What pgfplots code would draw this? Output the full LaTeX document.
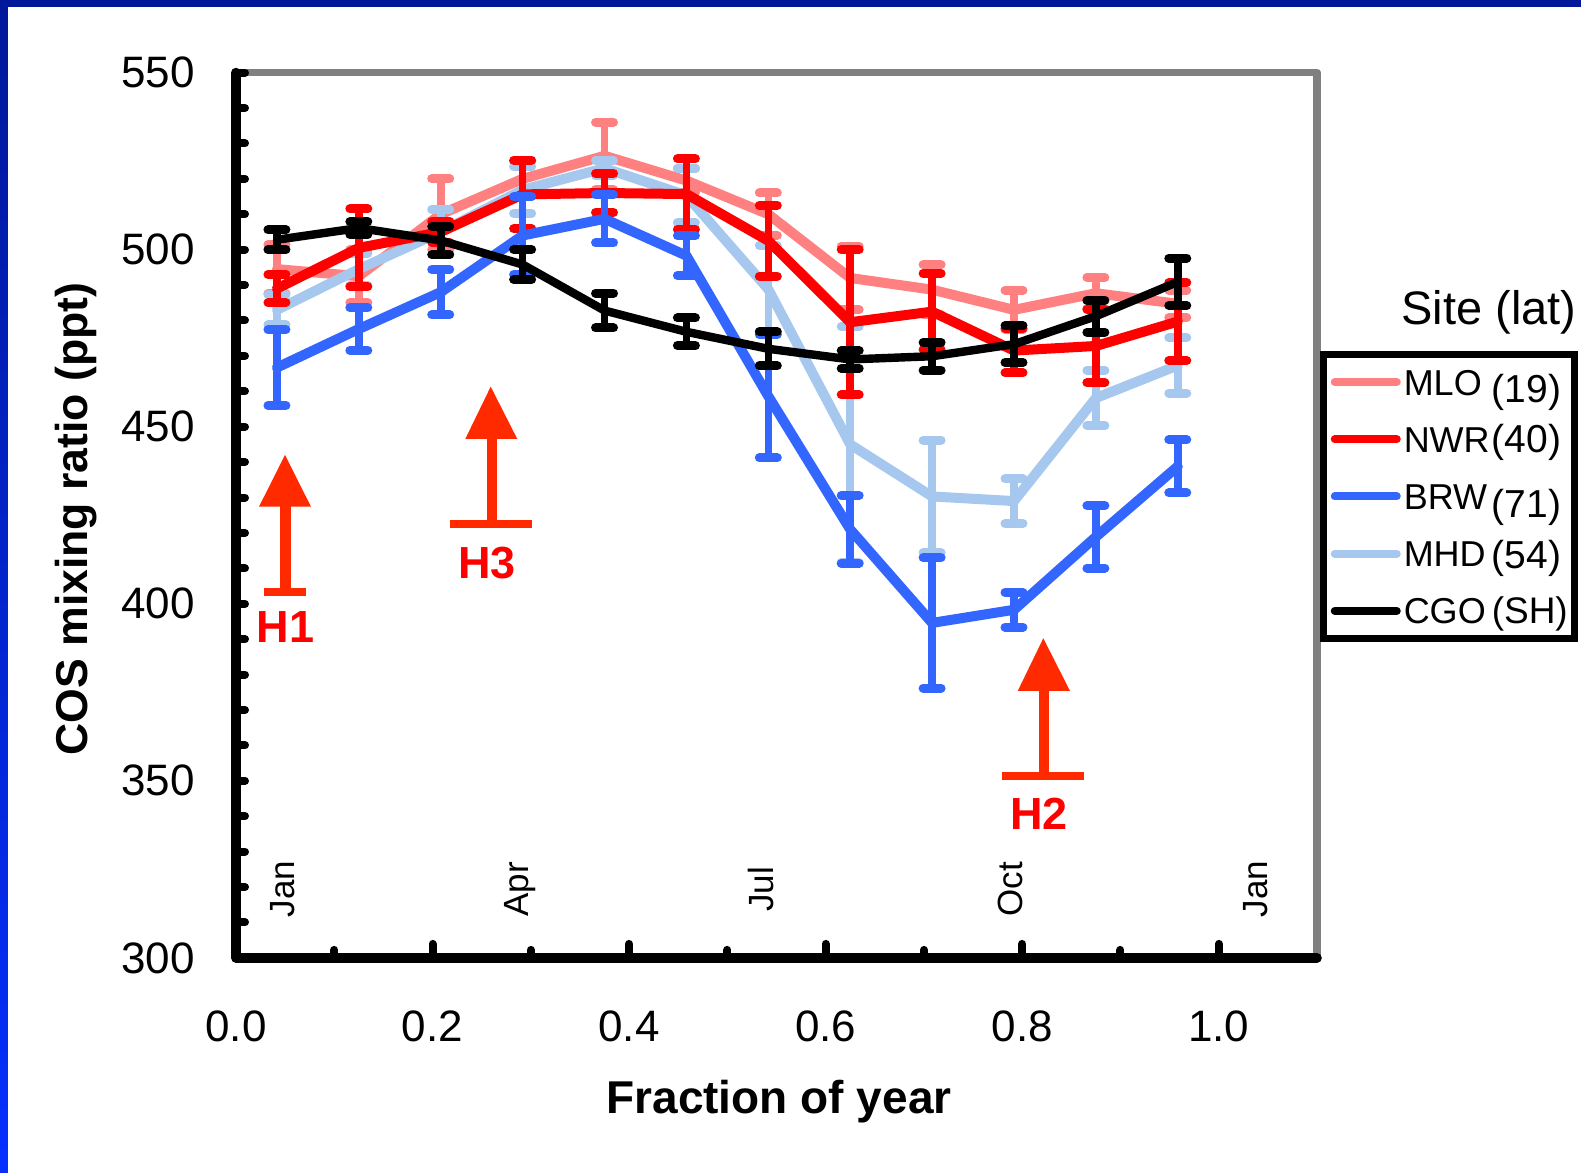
\documentclass[border=0pt]{standalone}
\usepackage{pgfplots}
\usepackage{pgfplotstable}
\pgfplotsset{compat=1.18}
\usepackage{fontspec}
\setmainfont{Liberation Sans}
\usepackage{graphicx}

\newcommand{\fs}[1]{\fontsize{#1}{#1}\selectfont}

\definecolor{mloC}{HTML}{FF8080}
\definecolor{nwrC}{HTML}{FF0000}
\definecolor{brwC}{HTML}{3366FF}
\definecolor{mhdC}{HTML}{A6C8EF}
\definecolor{cgoC}{HTML}{000000}
\definecolor{arrC}{HTML}{FF2A00}
\definecolor{labC}{HTML}{FF0000}
\definecolor{frameGray}{HTML}{808080}
\definecolor{frameTop}{RGB}{0,24,153}
\definecolor{frameBot}{RGB}{5,48,255}

% monthly means (mid-month) and their errors, COS in ppt
\pgfplotstableread{
x       y      e
0.04167 494.5  7.0
0.12500 492.5  7.5
0.20833 510.0 10.0
0.29167 520.0  5.0
0.37500 526.5  9.5
0.45833 519.5  3.5
0.54167 510.0  6.0
0.62500 492.0  9.0
0.70833 488.7  7.0
0.79167 483.0  5.5
0.87500 487.7  4.4
0.95833 484.7  3.9
}\mlo
\pgfplotstableread{
x       y      e
0.04167 489.0  4.0
0.12500 500.5 11.0
0.20833 505.0  3.0
0.29167 515.6  9.7
0.37500 516.0  5.5
0.45833 515.7 10.0
0.54167 502.5 10.0
0.62500 479.5 20.5
0.70833 482.5 10.8
0.79167 471.5  6.3
0.87500 472.8 10.4
0.95833 479.7 11.0
}\nwr
\pgfplotstableread{
x       y      e
0.04167 466.7 10.7
0.12500 477.6  6.0
0.20833 488.0  6.4
0.29167 504.0 11.0
0.37500 508.7  6.8
0.45833 498.3  5.6
0.54167 458.6 17.4
0.62500 421.0  9.6
0.70833 394.6 18.4
0.79167 398.3  4.9
0.87500 418.9  8.8
0.95833 438.8  7.5
}\brw
\pgfplotstableread{
x       y      e
0.04167 483.0  4.2
0.12500 494.5  4.5
0.20833 505.0  6.3
0.29167 516.9  6.6
0.37500 523.0  2.2
0.45833 515.3  7.7
0.54167 488.8 12.4
0.62500 445.0 33.3
0.70833 430.3 15.9
0.79167 429.0  6.3
0.87500 458.1  7.8
0.95833 467.3  7.8
}\mhd
\pgfplotstableread{
x       y      e
0.04167 502.8  2.8
0.12500 506.1  1.8
0.20833 502.6  4.0
0.29167 495.8  4.2
0.37500 482.8  4.9
0.45833 476.8  3.9
0.54167 472.0  4.8
0.62500 469.0  2.5
0.70833 469.9  3.9
0.79167 473.3  5.2
0.87500 481.2  4.5
0.95833 490.9  6.7
}\cgo

\pgfplotsset{
  site/.style={
    line width=5pt, line join=round, line cap=round, no markers,
    error bars/y dir=both, error bars/y explicit,
    error bars/error bar style={line width=3.8pt, line cap=round},
    error bars/error mark options={rotate=90, line width=4.5pt, line cap=round, mark size=4.5pt},
  },
}

\begin{document}
\begin{tikzpicture}
\useasboundingbox (0,0) rectangle (790.5pt,586.5pt);

% slide background: blue edge and white panel
\begin{scope}[x=0.5pt, y=-0.5pt, shift={(0pt,586.5pt)}]
  \shade[top color=frameTop, bottom color=frameBot] (0,0) rectangle (1581,1173);
  \fill[white] (7.5,7.5) rectangle (1581,1173);
\end{scope}

\begin{axis}[
  at={(118pt,107.55pt)}, anchor=south west,
  scale only axis, width=540.5pt, height=442.65pt,
  xmin=0, xmax=1.1, ymin=300, ymax=550,
  clip=false,
  axis line style={draw=none},
  xtick={0,0.2,0.4,0.6,0.8,1.0},
  ytick={300,350,400,450,500,550},
  major tick length=0pt,
  tick style={draw=none},
  /pgf/number format/assume math mode=true,
  tick label style={font=\fs{22}},
  xticklabel style={anchor=north, inner sep=0pt, yshift=-26pt,
    /pgf/number format/fixed, /pgf/number format/fixed zerofill,
    /pgf/number format/precision=1},
  yticklabel style={anchor=east, inner sep=0pt, xshift=-20.5pt},
  xlabel={Fraction of year},
  xlabel style={at={(rel axis cs:0.5023,-0.1752)}, anchor=base, font=\bfseries\fs{23}},
  ylabel={COS mixing ratio (ppt)},
  ylabel style={at={(rel axis cs:-0.148,0.4958)}, anchor=center, font=\bfseries\fs{22.3}},
  legend image code/.code={\draw[#1, line width=4pt, line cap=round] (0pt,0pt) -- (31pt,0pt);},
  legend cell align=left,
  legend style={
    at={(1.003,0.686)}, anchor=north west,
    draw=black, line width=3.5pt, fill=white,
    inner xsep=3.5pt, inner ysep=7.5pt,
    row sep=15.6pt, column sep=1.5pt,
    font=\fs{18},
    nodes={inner sep=0pt, text height=13pt, text depth=0pt},
  },
]

% frame: grey top/right, black left/bottom
\draw[frameGray, line width=3.8pt, line cap=round, line join=round]
  (rel axis cs:0,1) -- (rel axis cs:1,1) -- (rel axis cs:1,0);
\draw[black, line width=4.8pt, line cap=round, line join=round]
  (rel axis cs:0,1) -- (rel axis cs:0,0) -- (rel axis cs:1,0);

% inward ticks
\pgfplotsinvokeforeach{310,320,330,340,350,360,370,380,390,400,410,420,430,440,450,460,470,480,490,500,510,520,530,540,550}{
  \draw[line width=4pt, line cap=round] (axis cs:0,#1) -- ++(4.5pt,0pt);
}
\pgfplotsinvokeforeach{0.1,0.3,0.5,0.7,0.9}{
  \draw[line width=4pt, line cap=round] (axis cs:#1,300) -- ++(0pt,4pt);
}
\pgfplotsinvokeforeach{0.2,0.4,0.6,0.8,1.0}{
  \draw[line width=4pt, line cap=round] (axis cs:#1,300) -- ++(0pt,7pt);
}

% month markers
\node[rotate=90, font=\fs{17.5}] at (axis cs:0.0476,319.4) {Jan};
\node[rotate=90, font=\fs{17.5}] at (axis cs:0.2895,319.4) {Apr};
\node[rotate=90, font=\fs{17.5}] at (axis cs:0.5340,319.4) {Jul};
\node[rotate=90, font=\fs{17.5}] at (axis cs:0.7880,319.4) {Oct};
\node[rotate=90, font=\fs{17.5}] at (axis cs:1.0380,319.4) {Jan};

% sites
\addplot[site, color=mloC, forget plot] table[x=x, y=y, y error=e] {\mlo};
\addplot[site, color=mhdC, forget plot] table[x=x, y=y, y error=e] {\mhd};
\addplot[site, color=nwrC, forget plot] table[x=x, y=y, y error=e] {\nwr};
\addplot[site, color=brwC, forget plot] table[x=x, y=y, y error=e] {\brw};
\addplot[site, color=cgoC, line width=4.2pt, forget plot] table[x=x, y=y, y error=e] {\cgo};

\addlegendimage{mloC}
\addlegendentry{\makebox[44pt][l]{MLO}\raisebox{-3.5pt}{\fs{19.5}(19)}}
\addlegendimage{nwrC}
\addlegendentry{\makebox[44pt][l]{NWR}{\fs{19.5}(40)}}
\addlegendimage{brwC}
\addlegendentry{\makebox[44pt][l]{BRW}\raisebox{-4pt}{\fs{19.5}(71)}}
\addlegendimage{mhdC}
\addlegendentry{\makebox[44pt][l]{MHD}\raisebox{-1pt}{\fs{19.5}(54)}}
\addlegendimage{cgoC}
\addlegendentry{\makebox[44pt][l]{CGO}{\fs{18.5}(SH)}}
\end{axis}

% annotations in picture pixel units
\begin{scope}[x=0.5pt, y=-0.5pt, shift={(0pt,586.5pt)}]
  \node[anchor=base east, font=\fs{23.5}, inner sep=0pt] at (1577,325) {Site (lat)};

  % H1
  \fill[arrC] (285,455) -- (311,506.7) -- (259,506.7) -- cycle;
  \fill[arrC] (280,505) rectangle (290.7,592);
  \fill[arrC] (264.3,588.3) rectangle (305.7,596);
  \node[anchor=base, font=\bfseries\fs{22.5}, text=labC, inner sep=0pt] at (285.3,642.7) {H1};
  % H3
  \fill[arrC] (490.7,386.7) -- (517.3,439) -- (465.3,439) -- cycle;
  \fill[arrC] (486.7,438) rectangle (496.7,524);
  \fill[arrC] (450,520) rectangle (532.3,527.7);
  \node[anchor=base, font=\bfseries\fs{22.5}, text=labC, inner sep=0pt] at (487,578.3) {H3};
  % H2
  \fill[arrC] (1043.3,638.3) -- (1070,691) -- (1017.7,691) -- cycle;
  \fill[arrC] (1039,690) rectangle (1049,776);
  \fill[arrC] (1002.3,772.3) rectangle (1084.3,780);
  \node[anchor=base, font=\bfseries\fs{22.5}, text=labC, inner sep=0pt] at (1039,830) {H2};
\end{scope}
\end{tikzpicture}
\end{document}
